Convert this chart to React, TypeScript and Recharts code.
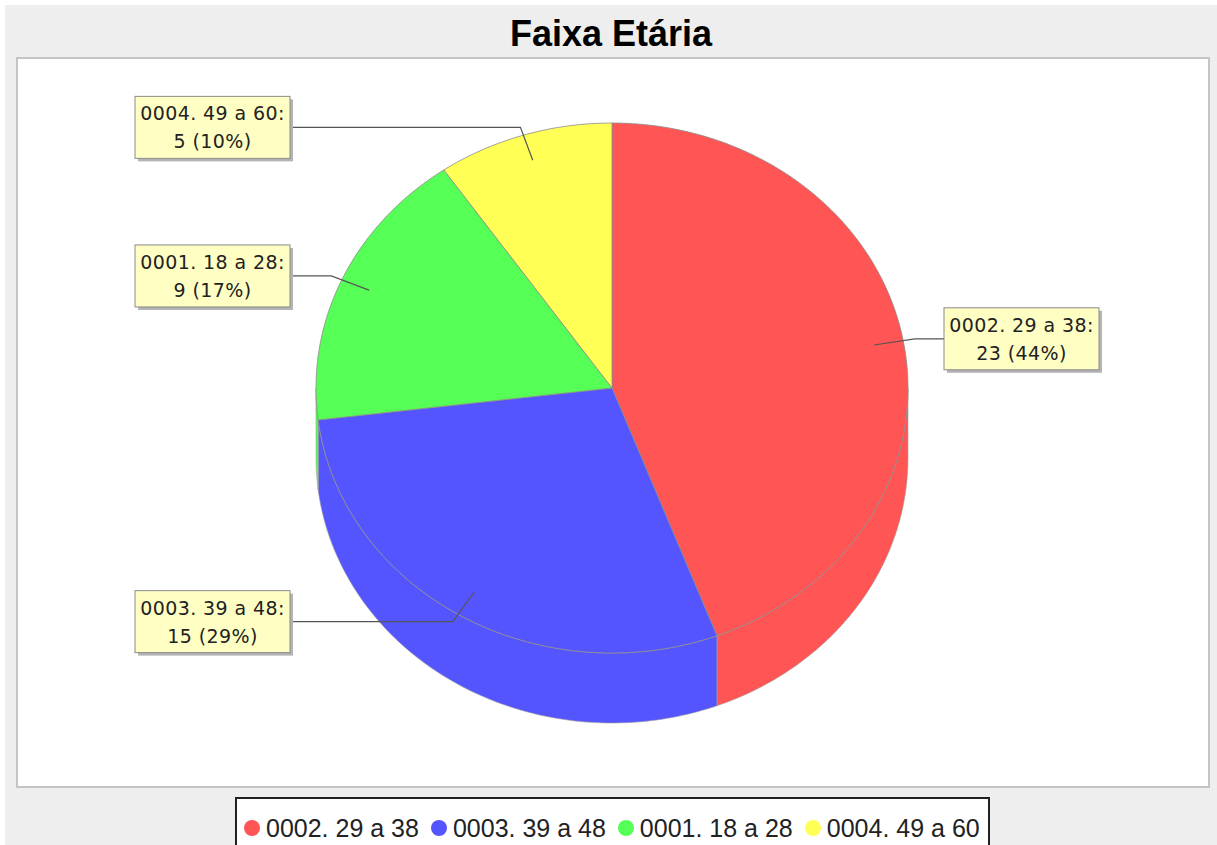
import { Cell, Legend, Pie, PieChart } from 'recharts';

const categories = ['0002. 29 a 38', '0003. 39 a 48', '0001. 18 a 28', '0004. 49 a 60'];
const counts = [23, 15, 9, 5];
const sliceColors = ['#FF5555', '#5555FF', '#55FF55', '#FFFF55'];

const data = categories.map((name, i) => ({ name, value: counts[i] }));

const CX = 612;
const CY = 388;
const RADIUS = 296;
const TILT = 265 / 296; // vertical squash of the top face
const DEPTH = 70;
const RAD = Math.PI / 180;

const arcPoints = (cx: number, cy: number, r: number, a1: number, a2: number) => {
  const steps = Math.max(2, Math.ceil(Math.abs(a2 - a1)));
  const pts: string[] = [];
  for (let i = 0; i <= steps; i++) {
    const a = (a1 + ((a2 - a1) * i) / steps) * RAD;
    pts.push(`${(cx + r * Math.cos(a)).toFixed(2)},${(cy - r * TILT * Math.sin(a)).toFixed(2)}`);
  }
  return pts;
};

const TopSlice = (props: any) => {
  const { cx, cy, outerRadius, startAngle, endAngle, fill } = props;
  const pts = arcPoints(cx, cy, outerRadius, startAngle, endAngle);
  return (
    <path
      d={`M${cx},${cy} L${pts.join(' L')} Z`}
      fill={fill}
      stroke="#8c8c8c"
      strokeWidth={0.8}
      strokeLinejoin="round"
    />
  );
};

// side wall of the 3D pie, only the front half is visible
const WallSlice = (props: any) => {
  const { cx, cy, outerRadius, startAngle, endAngle, fill } = props;
  const lo = Math.min(startAngle, endAngle);
  const hi = Math.max(startAngle, endAngle);
  const front = [[-180, 0], [180, 360], [-540, -360]]
    .map(([a, b]) => [Math.max(lo, a), Math.min(hi, b)])
    .filter(([u, v]) => v - u > 0.01);
  return (
    <g>
      {front.map(([u, v], i) => {
        const top = arcPoints(cx, cy, outerRadius, u, v);
        const bottom = arcPoints(cx, cy + DEPTH, outerRadius, v, u);
        return (
          <path
            key={i}
            d={`M${top.join(' L')} L${bottom.join(' L')} Z`}
            fill={fill}
            stroke="#a0a0a0"
            strokeWidth={0.6}
          />
        );
      })}
    </g>
  );
};

const renderLabel = (props: any) => {
  const { cx, cy, midAngle, outerRadius, name, value, percent } = props;
  const c = Math.cos(midAngle * RAD);
  const s = Math.sin(midAngle * RAD);
  const ax = cx + 0.9 * outerRadius * c;
  const ay = cy - 0.9 * outerRadius * TILT * s;
  const ly = cy - 273 * s;
  const ex = cx + 1.04 * outerRadius * c;
  const left = c < 0;
  const boxW = 155;
  const boxH = 62;
  const boxX = left ? cx - outerRadius - 26 - boxW : cx + outerRadius + 36;
  const edgeX = left ? boxX + boxW : boxX;
  const boxY = ly - boxH / 2;
  return (
    <g>
      <polyline
        points={`${edgeX},${ly} ${ex},${ly} ${ax},${ay}`}
        fill="none"
        stroke="#555"
        strokeWidth={1.2}
      />
      <rect x={boxX + 3} y={boxY + 3} width={boxW} height={boxH} fill="#b4b4b4" />
      <rect x={boxX} y={boxY} width={boxW} height={boxH} fill="#FFFFC4" stroke="#8a8a8a" strokeWidth={1} />
      <text
        x={boxX + boxW / 2}
        textAnchor="middle"
        fontFamily="'DejaVu Sans', sans-serif"
        fontSize={19}
        letterSpacing={0.4}
        fill="#222"
      >
        <tspan x={boxX + boxW / 2} y={ly - 7}>{`${name}:`}</tspan>
        <tspan x={boxX + boxW / 2} y={ly + 21}>{`${value} (${Math.round(percent * 100)}%)`}</tspan>
      </text>
    </g>
  );
};

const renderLegend = ({ payload }: any) => {
  const items = categories.map((name) => {
    const found = (payload || []).find((p: any) => p.value === name);
    return { name, color: found ? found.color : '#ccc' };
  });
  return (
    <div
      style={{
        boxSizing: 'border-box',
        width: 755,
        height: 60,
        border: '2px solid #222',
        background: '#fff',
        display: 'flex',
        whiteSpace: 'nowrap',
        paddingTop: 2,
        paddingLeft: 7,
        fontFamily: "'Liberation Sans', Arial, sans-serif",
        fontSize: 25,
        lineHeight: '30px',
        color: '#222',
      }}
    >
      {items.map((entry) => (
        <span key={entry.name} style={{ display: 'inline-flex', alignItems: 'center', marginRight: 12 }}>
          <svg width={16} height={16} style={{ marginRight: 6 }}>
            <circle cx={8} cy={8} r={8} fill={entry.color} />
          </svg>
          <span>{entry.name}</span>
        </span>
      ))}
    </div>
  );
};

export default function App() {
  return (
    <div style={{ position: 'fixed', left: 0, top: 0, width: 1217, height: 845, background: '#fff', overflow: 'hidden' }}>
      <div style={{ position: 'absolute', left: 5, top: 5, width: 1212, height: 840, background: '#eeeeee' }} />
      <div
        style={{
          position: 'absolute',
          left: 0,
          top: 14,
          width: 1222,
          textAlign: 'center',
          fontFamily: "'Liberation Sans', Arial, sans-serif",
          fontWeight: 'bold',
          fontSize: 36,
          lineHeight: '40px',
          color: '#000',
        }}
      >
        Faixa Etária
      </div>
      <div
        style={{
          position: 'absolute',
          left: 16,
          top: 57,
          width: 1194,
          height: 731,
          boxSizing: 'border-box',
          background: '#fff',
          border: '2px solid #c4c4c4',
        }}
      />
      <div style={{ position: 'absolute', left: 0, top: 0 }}>
        <PieChart width={1217} height={845} margin={{ top: 0, right: 0, bottom: 0, left: 0 }}>
          <Pie
            data={data}
            dataKey="value"
            nameKey="name"
            cx={CX}
            cy={CY}
            outerRadius={RADIUS}
            startAngle={90}
            endAngle={-270}
            isAnimationActive={false}
            legendType="none"
            shape={WallSlice}
            inactiveShape={WallSlice}
            activeShape={WallSlice}
          >
            {data.map((entry, index) => (
              <Cell key={`wall-${index}`} fill={sliceColors[index]} />
            ))}
          </Pie>
          <Pie
            data={data}
            dataKey="value"
            nameKey="name"
            cx={CX}
            cy={CY}
            outerRadius={RADIUS}
            startAngle={90}
            endAngle={-270}
            isAnimationActive={false}
            shape={TopSlice}
            inactiveShape={TopSlice}
            activeShape={TopSlice}
            label={renderLabel}
            labelLine={false}
          >
            {data.map((entry, index) => (
              <Cell key={`cell-${index}`} fill={sliceColors[index]} />
            ))}
          </Pie>
          <Legend
            content={renderLegend}
            wrapperStyle={{ left: 235, top: 797, width: 755 }}
          />
        </PieChart>
      </div>
    </div>
  );
}
